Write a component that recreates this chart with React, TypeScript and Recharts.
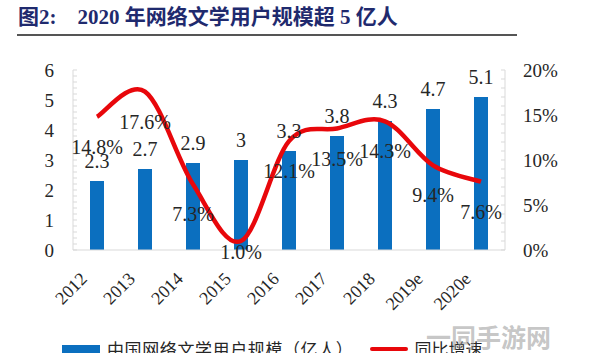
import React from "react";
import { ComposedChart, Bar, Line, XAxis, YAxis } from "recharts";

const years = ["2012", "2013", "2014", "2015", "2016", "2017", "2018", "2019e", "2020e"];
const users = [2.3, 2.7, 2.9, 3, 3.3, 3.8, 4.3, 4.7, 5.1];
const growth = [14.8, 17.6, 7.3, 1.0, 12.1, 13.5, 14.3, 9.4, 7.6];
const leftTicks = Array.from({ length: 31 }, (_, i) => i / 5);
const rightTicks = Array.from({ length: 21 }, (_, i) => i);

const data = years.map((year, i) => ({ year, users: users[i], growth: growth[i] }));

const SERIF = '"Liberation Serif", "Noto Sans CJK SC", serif';
const CJK = '"Liberation Serif", "Noto Sans CJK SC", sans-serif';
const AXIS = "#d9d9d9";
const TEXT = "#262626";
const BLUE = "#0b6fbf";
const RED = "#e8070b";

// Excel-like smoothed line (Catmull-Rom through every point)
function smoothCurve(context: any) {
  let pts: number[][] = [];
  return {
    areaStart() {},
    areaEnd() {},
    lineStart() {
      pts = [];
    },
    lineEnd() {
      const n = pts.length;
      if (!n) return;
      context.moveTo(pts[0][0], pts[0][1]);
      for (let i = 0; i < n - 1; i++) {
        const p0 = pts[Math.max(i - 1, 0)];
        const p1 = pts[i];
        const p2 = pts[i + 1];
        const p3 = pts[Math.min(i + 2, n - 1)];
        context.bezierCurveTo(
          p1[0] + (p2[0] - p0[0]) / 6, p1[1] + (p2[1] - p0[1]) / 6,
          p2[0] - (p3[0] - p1[0]) / 6, p2[1] - (p3[1] - p1[1]) / 6,
          p2[0], p2[1]
        );
      }
    },
    point(x: number, y: number) {
      pts.push([+x, +y]);
    },
  };
}

const LeftTick = ({ x, y, payload }: any) => {
  const v = payload.value;
  const major = Math.abs(v - Math.round(v)) < 1e-6;
  return (
    <g>
      <line x1={x} x2={x + 4} y1={y} y2={y} stroke={AXIS} />
      {major && (
        <text x={x - 19} y={y} dy="0.35em" textAnchor="end" fontSize={19} fontFamily={SERIF} fill={TEXT}>
          {Math.round(v)}
        </text>
      )}
    </g>
  );
};

const RightTick = ({ x, y, payload }: any) => {
  const v = payload.value;
  return (
    <g>
      <line x1={x - 4} x2={x} y1={y} y2={y} stroke={AXIS} />
      {v % 5 === 0 && (
        <text x={x + 18} y={y} dy="0.35em" textAnchor="start" fontSize={19} fontFamily={SERIF} fill={TEXT}>
          {v}%
        </text>
      )}
    </g>
  );
};

const YearTick = ({ x, y, payload }: any) => {
  const ax = x - 9;
  const ay = y + 30;
  return (
    <text x={ax} y={ay} transform={`rotate(-45, ${ax}, ${ay})`} textAnchor="end" fontSize={18} fontFamily={SERIF} fill={TEXT}>
      {payload.value}
    </text>
  );
};

const BarLabel = ({ x, y, width, value }: any) => (
  <text x={x + width / 2} y={y - 13} textAnchor="middle" fontSize={20} fontFamily={SERIF} fill={TEXT}>
    {value}
  </text>
);

const GrowthLabel = ({ x, y, value }: any) => (
  <text x={x} y={Math.min(y + 37, 259)} textAnchor="middle" fontSize={20} fontFamily={SERIF} fill={TEXT}>
    {value.toFixed(1)}%
  </text>
);

export default function App() {
  return (
    <div style={{ position: "fixed", left: 0, top: 0, width: 594, height: 353, background: "#fff", overflow: "hidden" }}>
      <div
        style={{
          position: "absolute", left: 18, top: 4, fontFamily: CJK, fontWeight: "bold",
          fontSize: 21, color: "#1f2a6e", whiteSpace: "pre", lineHeight: "26px",
        }}
      >
        {"图2:    2020 年网络文学用户规模超 5 亿人"}
      </div>
      <div style={{ position: "absolute", left: 17, top: 34, width: 500, height: 2, background: "#555" }} />
      <div style={{ position: "absolute", left: 0, top: 0 }}>
        <ComposedChart width={594} height={353} data={data} margin={{ top: 70, right: 0, bottom: 0, left: 0 }}>
          <XAxis
            dataKey="year"
            height={103}
            interval={0}
            tickSize={0}
            tickMargin={0}
            tickLine={false}
            axisLine={{ stroke: AXIS }}
            tick={<YearTick />}
          />
          <YAxis
            yAxisId="left"
            width={73}
            domain={[0, 6]}
            ticks={leftTicks}
            interval={0}
            tickSize={0}
            tickMargin={0}
            tickLine={false}
            axisLine={{ stroke: AXIS }}
            tick={<LeftTick />}
          />
          <YAxis
            yAxisId="right"
            orientation="right"
            width={89}
            domain={[0, 20]}
            ticks={rightTicks}
            interval={0}
            tickSize={0}
            tickMargin={0}
            tickLine={false}
            axisLine={{ stroke: AXIS }}
            tick={<RightTick />}
          />
          <Bar yAxisId="left" dataKey="users" fill={BLUE} barSize={14} isAnimationActive={false} label={<BarLabel />} />
          <Line
            yAxisId="right"
            dataKey="growth"
            type={smoothCurve as any}
            stroke={RED}
            strokeWidth={4.5}
            dot={false}
            activeDot={false}
            isAnimationActive={false}
            label={<GrowthLabel />}
          />
        </ComposedChart>
      </div>
      <div
        style={{
          position: "absolute", left: 62, top: 336, display: "flex", alignItems: "center",
          fontFamily: CJK, fontSize: 17, color: TEXT, whiteSpace: "nowrap",
        }}
      >
        <span style={{ display: "inline-block", width: 38, height: 8, background: BLUE, marginRight: 7 }} />
        <span style={{ letterSpacing: 0.6 }}>中国网络文学用户规模（亿人）</span>
        <span style={{ display: "inline-block", width: 38, height: 4, background: RED, borderRadius: 2, marginLeft: 17, marginRight: 6 }} />
        <span>同比增速</span>
      </div>
      <div
        style={{
          position: "absolute", left: 426, top: 318, fontFamily: CJK, fontWeight: "bold",
          fontSize: 25, color: "rgba(150,150,150,0.55)", whiteSpace: "nowrap",
        }}
      >
        一同手游网
      </div>
    </div>
  );
}
